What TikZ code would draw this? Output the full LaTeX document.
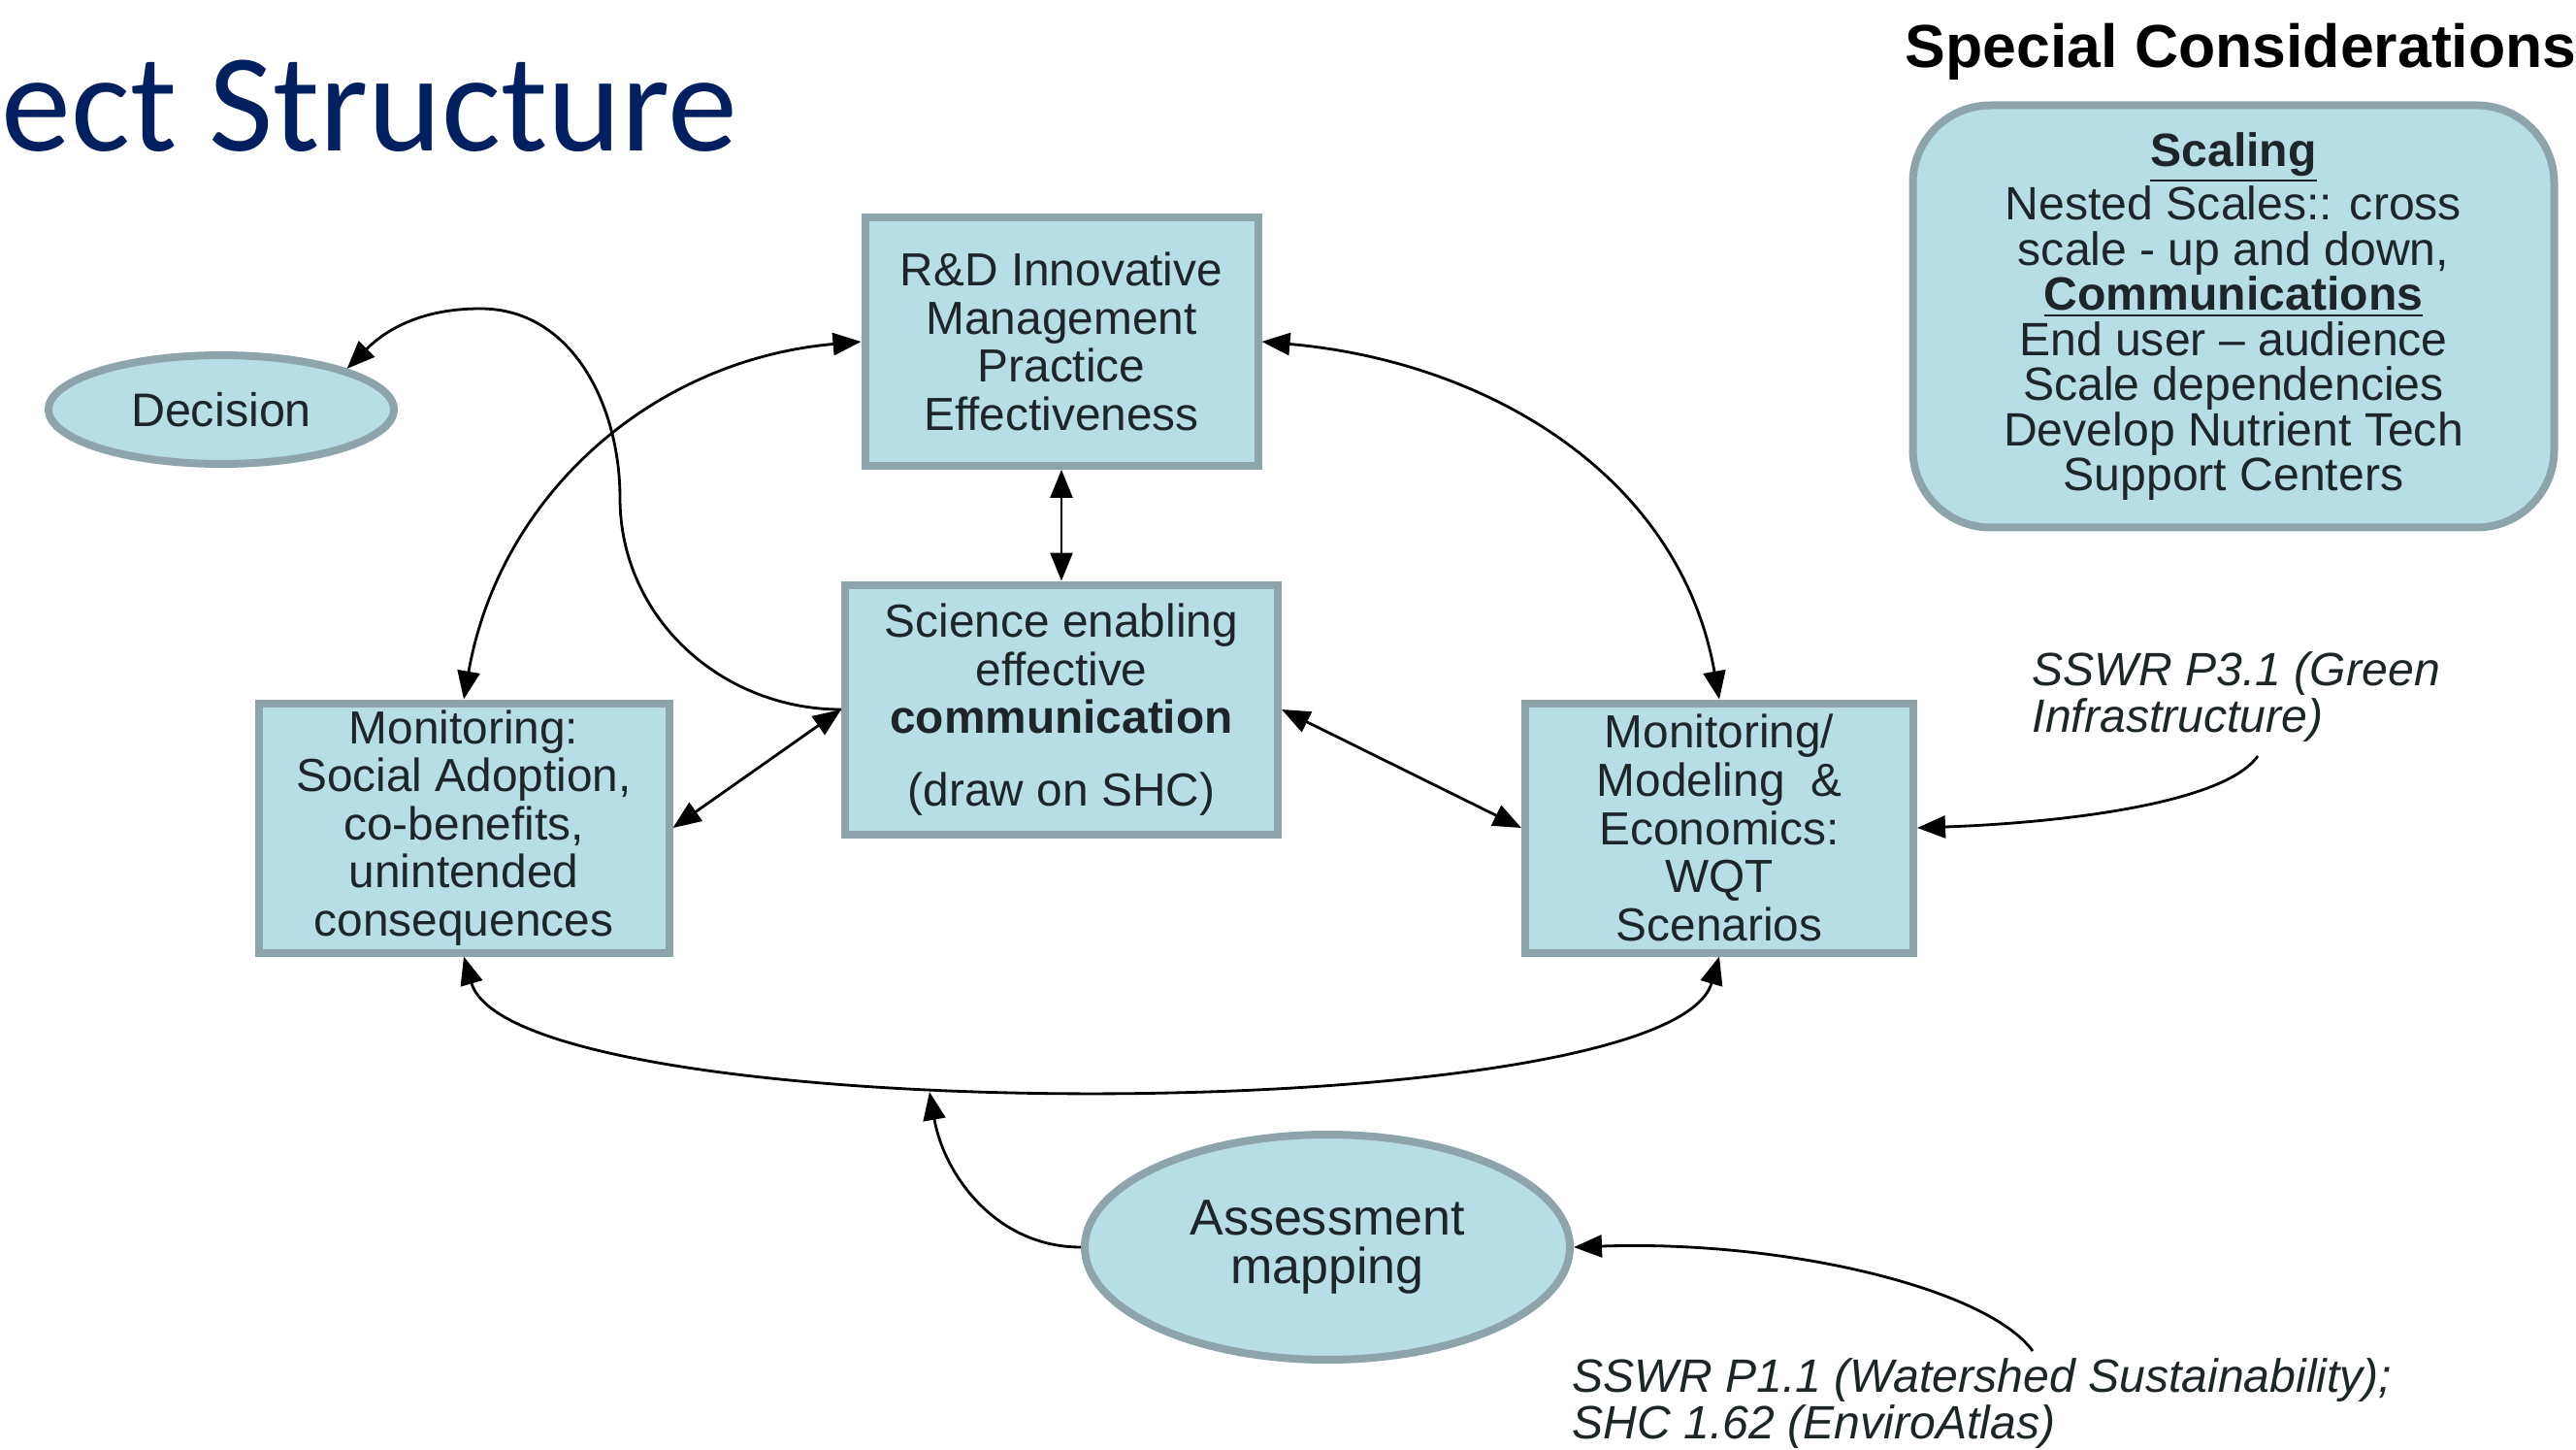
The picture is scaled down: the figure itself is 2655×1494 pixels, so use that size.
\documentclass[tikz,border=0pt]{standalone}
\usepackage{fontspec}
\setmainfont{Liberation Sans}
\newfontfamily\titlefont{Carlito}
\usetikzlibrary{arrows.meta,shapes.geometric}
\definecolor{boxfill}{RGB}{183,222,228}
\definecolor{boxline}{RGB}{140,164,170}
\definecolor{titleblue}{RGB}{0,32,96}
\definecolor{ink}{RGB}{28,38,40}

\begin{document}
\begin{tikzpicture}[x=0.1mm,y=0.1mm,
  box/.style={draw=boxline, fill=boxfill, line width=0.8mm, align=center, text=ink,
    font=\fontsize{13.6}{14.1}\selectfont, inner sep=0pt},
  oval/.style={ellipse, draw=boxline, fill=boxfill, line width=0.8mm, align=center, text=ink, inner sep=0pt},
  note/.style={anchor=west, align=left, inner sep=0pt, text=ink,
    font=\fontsize{13.7}{13.6}\selectfont\itshape},
  link/.style={line width=0.8pt, {Triangle[length=2.9mm,width=2.3mm]}-{Triangle[length=2.9mm,width=2.3mm]}},
  onearrow/.style={line width=0.8pt, -{Triangle[length=2.9mm,width=2.3mm]}}]
\useasboundingbox (0,0) rectangle (2655,-1494);

% headings
\node[anchor=base west, inner sep=0pt, text=titleblue, font=\titlefont\fontsize{41}{48}\selectfont] (title) at (1,-156) {ect Structure};
\node[anchor=base west, inner sep=0pt, font=\bfseries\fontsize{17.8}{20}\selectfont] (spechead) at (1963,-70) {Special Considerations};

% special considerations
\node[box, rounded corners=8mm, minimum width=66.1mm, minimum height=43.5mm,
  font=\fontsize{13.7}{13.24}\selectfont] (special) at (2302,-326)
  {\underline{\textbf{Scaling}}\\Nested Scales:: cross\\scale - up and down,\\\underline{\textbf{Communications}}\\End user – audience\\Scale dependencies\\Develop Nutrient Tech\\Support Centers};

% boxes
\node[box, minimum width=40.5mm, minimum height=25.6mm] (rd) at (1094,-352) {R\&D Innovative\\Management\\Practice\\Effectiveness};
\node[box, minimum width=44.6mm, minimum height=25.7mm] (sci) at (1094,-731) {Science enabling\\effective\\\textbf{communication}\\[7pt](draw on SHC)};
\node[box, minimum width=42.3mm, minimum height=25.7mm] (left) at (478,-853) {Monitoring:\\Social Adoption,\\co-benefits,\\unintended\\consequences};
\node[box, minimum width=40mm, minimum height=25.7mm] (right) at (1772,-853) {Monitoring/\\Modeling~~\&\\Economics:\\WQT\\Scenarios};

% ellipses
\node[oval, minimum width=35.6mm, minimum height=11.2mm, font=\fontsize{13.8}{14}\selectfont] (dec) at (228,-422) {Decision};
\node[oval, minimum width=50mm, minimum height=23.2mm, font=\fontsize{14.8}{14.5}\selectfont] (asm) at (1368,-1285) {Assessment\\mapping};

% notes
\node[note] (p31) at (2094,-718) {SSWR P3.1 (Green\\Infrastructure)};
\node[note] (p11) at (1620,-1446) {SSWR P1.1 (Watershed Sustainability);\\SHC 1.62 (EnviroAtlas)};

\coordinate (p31tail) at (2327,-779);
\coordinate (p11tail) at (2095,-1392);
\coordinate (asmtip) at (958,-1125);
\coordinate (dbend) at (639,-513);
\coordinate (dtop) at (495,-318);

% connectors
\draw[link] (rd.south) -- (sci.north);
\draw[link] (sci.west) -- (left.east);
\draw[link] (sci.east) -- (right.west);
\draw[link] (rd.west) to[out=185,in=80] (left.north);
\draw[link] (rd.east) to[out=-5,in=100] (right.north);
\draw[link] (left.south) .. controls (530,-1165) and (1720,-1165) .. (right.south);
\draw[onearrow] (sci.west) to[out=180,in=-90] (dbend) to[out=90,in=0] (dtop) to[out=180,in=45] (dec.18);
\draw[onearrow] (asm.west) to[out=180,in=-80] (asmtip);
\draw[onearrow] (p31tail) to[out=-125,in=2,out looseness=0.43,in looseness=1.05] (right.east);
\draw[onearrow] (p11tail) to[out=126,in=2,out looseness=0.42,in looseness=1.15] (asm.east);
\end{tikzpicture}
\end{document}
